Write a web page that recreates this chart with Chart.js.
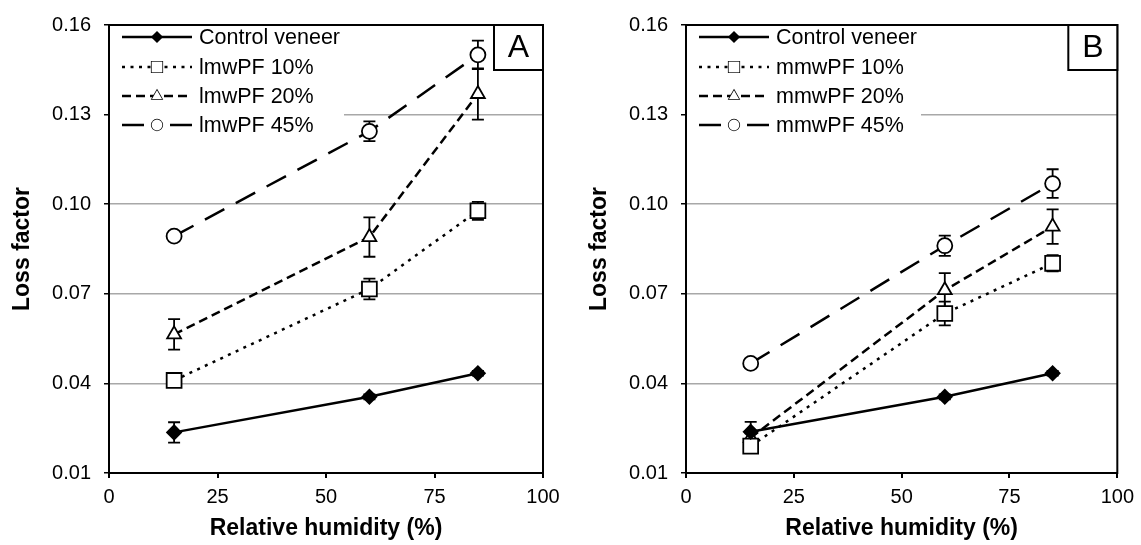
<!DOCTYPE html>
<html>
<head>
<meta charset="utf-8">
<script src="https://cdn.jsdelivr.net/npm/chart.js@4.4.1/dist/chart.umd.min.js"></script>
<style>
  body { margin: 0; background: #fff; }
  .wrap { position: absolute; top: 0; height: 545px; }
  #boxA { left: 0; width: 571px; }
  #boxB { left: 571px; width: 570px; }
</style>
</head>
<body>
<div class="wrap" id="boxA"><canvas id="chartA"></canvas></div>
<div class="wrap" id="boxB"><canvas id="chartB"></canvas></div>
<script>
const humidity = [15, 60, 85];
const xTicks = [0, 25, 50, 75, 100];
const yTicks = [0.01, 0.04, 0.07, 0.10, 0.13, 0.16];

const labelsA = ['Control veneer', 'lmwPF 10%', 'lmwPF 20%', 'lmwPF 45%'];
const labelsB = ['Control veneer', 'mmwPF 10%', 'mmwPF 20%', 'mmwPF 45%'];

// panel A
const controlA = [0.0236, 0.0355, 0.0434];
const controlErrA = [0.0034, 0.0008, 0.0008];
const pf10A = [0.0410, 0.0716, 0.0978];
const pf10ErrA = [0.0012, 0.0035, 0.0030];
const pf20A = [0.0564, 0.0890, 0.1369];
const pf20ErrA = [0.0051, 0.0066, 0.0086];
const pf45A = [0.0893, 0.1244, 0.1500];
const pf45ErrA = [0.0015, 0.0033, 0.0048];

// panel B
const controlB = [0.0238, 0.0355, 0.0434];
const controlErrB = [0.0033, 0.0008, 0.0008];
const pf10B = [0.0190, 0.0634, 0.0802];
const pf10ErrB = [0.0012, 0.0040, 0.0027];
const pf20B = [0.0218, 0.0712, 0.0925];
const pf20ErrB = [0.0015, 0.0057, 0.0058];
const pf45B = [0.0467, 0.0861, 0.1069];
const pf45ErrB = [0.0015, 0.0034, 0.0048];

const FONT = '"Liberation Sans", Arial, sans-serif';

// one style per series: control, 10%, 20%, 45%
const styles = [
  { dash: [], legendDash: [], point: 'rectRot', radius: 7, fill: '#000' },
  { dash: [3, 5.5], legendDash: [3, 5.5], point: 'rect', radius: 10.5, fill: '#fff' },
  { dash: [9, 5], legendDash: [9, 5], point: 'triangle', radius: 8, fill: '#fff' },
  { dash: [22, 13], legendDash: [22, 26], point: 'circle', radius: 7.5, fill: '#fff' }
];

function toPoints(vals) {
  return humidity.map((h, i) => ({ x: h, y: vals[i] }));
}

function makeDatasets(labels, series, errors) {
  return series.map((vals, i) => ({
    label: labels[i],
    data: toPoints(vals),
    errorBars: errors[i],
    showLine: true,
    borderColor: '#000',
    borderWidth: 2.5,
    borderDash: styles[i].dash,
    pointStyle: styles[i].point,
    pointRadius: styles[i].radius,
    pointBackgroundColor: styles[i].fill,
    pointBorderColor: '#000',
    pointBorderWidth: 1.8
  }));
}

const panelDecor = {
  id: 'panelDecor',
  beforeDatasetsDraw(chart, args, opts) {
    const ctx = chart.ctx;
    const a = chart.chartArea;
    const xs = chart.scales.x, ys = chart.scales.y;
    ctx.save();
    // legend background
    ctx.fillStyle = '#fff';
    ctx.fillRect(a.left + 1, a.top + 1, 234, 125);
    // error bars
    ctx.strokeStyle = '#000';
    ctx.lineWidth = 1.8;
    ctx.setLineDash([]);
    chart.data.datasets.forEach(ds => {
      ds.data.forEach((p, i) => {
        const e = ds.errorBars[i];
        const px = xs.getPixelForValue(p.x);
        const y1 = ys.getPixelForValue(p.y + e);
        const y2 = ys.getPixelForValue(p.y - e);
        ctx.beginPath();
        ctx.moveTo(px, y1); ctx.lineTo(px, y2);
        ctx.moveTo(px - 6, y1); ctx.lineTo(px + 6, y1);
        ctx.moveTo(px - 6, y2); ctx.lineTo(px + 6, y2);
        ctx.stroke();
      });
    });
    // legend
    ctx.font = '21.5px ' + FONT;
    ctx.textBaseline = 'middle';
    ctx.textAlign = 'left';
    const rows = [37, 67, 96, 125];
    chart.data.datasets.forEach((ds, i) => {
      const y = rows[i];
      const x0 = a.left + 13, x1 = a.left + 83, xm = (x0 + x1) / 2;
      ctx.strokeStyle = '#000';
      ctx.lineWidth = 2.5;
      ctx.setLineDash(styles[i].legendDash);
      ctx.beginPath();
      ctx.moveTo(x0, y); ctx.lineTo(x1, y);
      ctx.stroke();
      ctx.setLineDash([]);
      ctx.fillStyle = styles[i].fill;
      ctx.lineWidth = 1.5;
      Chart.helpers.drawPoint(ctx, {
        pointStyle: styles[i].point,
        radius: styles[i].radius * 0.72,
        borderWidth: 1.5
      }, xm, y);
      ctx.fill();
      ctx.fillStyle = '#000';
      ctx.fillText(ds.label, a.left + 90, y + 1);
    });
    ctx.restore();
  },
  afterDraw(chart, args, opts) {
    const ctx = chart.ctx;
    const a = chart.chartArea;
    ctx.save();
    ctx.strokeStyle = '#000';
    ctx.lineWidth = 2;
    ctx.setLineDash([]);
    ctx.strokeRect(a.left, a.top, a.right - a.left, a.bottom - a.top);
    // panel letter box
    const bw = 49, bh = 45;
    ctx.fillStyle = '#fff';
    ctx.fillRect(a.right - bw, a.top, bw, bh);
    ctx.strokeRect(a.right - bw, a.top, bw, bh);
    ctx.fillStyle = '#000';
    ctx.font = '32px ' + FONT;
    ctx.textAlign = 'center';
    ctx.textBaseline = 'middle';
    ctx.fillText(opts.letter, a.right - bw / 2, a.top + bh / 2 + 1);
    ctx.restore();
  }
};

function makeChart(id, letter, labels, series, errors, yWidth, padRight, yTitlePad) {
  return new Chart(document.getElementById(id), {
    type: 'scatter',
    data: { datasets: makeDatasets(labels, series, errors) },
    plugins: [panelDecor],
    options: {
      responsive: true,
      maintainAspectRatio: false,
      animation: false,
      devicePixelRatio: 1,
      layout: { padding: { left: 0, right: padRight, top: 19, bottom: 0 } },
      plugins: {
        legend: { display: false },
        tooltip: { enabled: false },
        panelDecor: { letter: letter }
      },
      scales: {
        x: {
          type: 'linear',
          min: 0, max: 100,
          afterFit: s => { s.height = 72; },
          afterBuildTicks: s => { s.ticks = xTicks.map(v => ({ value: v })); },
          ticks: { color: '#000', font: { family: FONT, size: 20 }, padding: 7 },
          grid: { drawOnChartArea: false, tickColor: '#000', tickLength: 5, lineWidth: 2 },
          border: { color: '#000', width: 2 },
          title: {
            display: true, text: 'Relative humidity (%)', color: '#000',
            font: { family: FONT, size: 23, weight: 'bold', lineHeight: 1.2 },
            padding: { top: 4, bottom: 3 }
          }
        },
        y: {
          type: 'linear',
          min: 0.01, max: 0.16,
          afterFit: s => { s.width = yWidth; },
          afterBuildTicks: s => { s.ticks = yTicks.map(v => ({ value: v })); },
          ticks: {
            color: '#000', font: { family: FONT, size: 20 }, padding: 13,
            callback: v => v.toFixed(2)
          },
          grid: {
            drawOnChartArea: true,
            color: c => {
              const k = Math.round(c.tick.value * 100);
              return (k === 1 || k === 16) ? 'rgba(0,0,0,0)' : '#a8a8a8';
            },
            lineWidth: 1.5,
            tickColor: '#000',
            tickLength: 5
          },
          border: { color: '#000', width: 2 },
          title: {
            display: true, text: 'Loss factor', color: '#000',
            font: { family: FONT, size: 23, weight: 'bold', lineHeight: 1.2 },
            padding: { top: yTitlePad, bottom: 0 }
          }
        }
      }
    }
  });
}

makeChart('chartA', 'A', labelsA,
  [controlA, pf10A, pf20A, pf45A],
  [controlErrA, pf10ErrA, pf20ErrA, pf45ErrA], 109, 28, 9);
makeChart('chartB', 'B', labelsB,
  [controlB, pf10B, pf20B, pf45B],
  [controlErrB, pf10ErrB, pf20ErrB, pf45ErrB], 115, 21, 15);
</script>
</body>
</html>
